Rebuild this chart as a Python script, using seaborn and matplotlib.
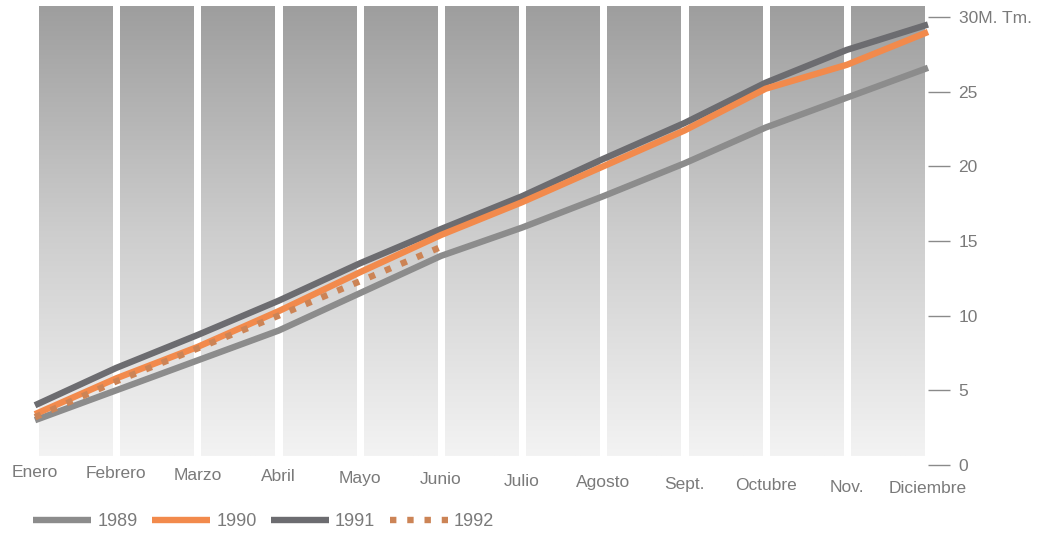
import matplotlib
matplotlib.use("Agg")
import matplotlib.lines as mlines
import matplotlib.pyplot as plt
import matplotlib.transforms as mtransforms
import numpy as np
import pandas as pd
import seaborn as sns

# Monthly cumulative values, millions of tonnes
months = ["Enero", "Febrero", "Marzo", "Abril", "Mayo", "Junio",
          "Julio", "Agosto", "Sept.", "Octubre", "Nov.", "Diciembre"]
y1989 = [3.0, 5.0, 7.0, 9.0, 11.5, 14.0, 15.9, 18.0, 20.2, 22.6, 24.6, 26.6]
y1990 = [3.4, 5.8, 7.9, 10.3, 12.9, 15.4, 17.6, 20.0, 22.4, 25.2, 26.8, 29.0]
y1991 = [4.0, 6.5, 8.7, 11.0, 13.5, 15.8, 18.0, 20.5, 22.9, 25.6, 27.8, 29.5]
y1992 = [3.2, 5.6, 7.8, 10.0, 12.3, 14.6]
y_ticks = [0, 5, 10, 15, 20, 25, 30]
y_tick_labels = ["0", "5", "10", "15", "20", "25", "30M. Tm."]

series = {"1989": y1989, "1991": y1991, "1990": y1990, "1992": y1992}
df = pd.concat([
    pd.DataFrame({"mes": np.arange(len(v)), "valor": v, "year": k})
    for k, v in series.items()
])

colors = {"1989": "#8c8c8c", "1990": "#f28a4c", "1991": "#6c6c70", "1992": "#cc8456"}
styles = {"1989": "-", "1990": "-", "1991": "-", "1992": (0, (1, 1.7))}

sns.set_style("white")
plt.rcParams["font.family"] = ["Liberation Sans", "DejaVu Sans"]
txt = "#7a7a7a"

fig = plt.figure(figsize=(10.52, 5.39), dpi=100)
ax = fig.add_axes([35 / 1052, 74 / 539, 893 / 1052, 462.9 / 539])

# gradient columns between consecutive months
grad = np.linspace(0, 1, 256).reshape(-1, 1)
cmap = matplotlib.colors.LinearSegmentedColormap.from_list("g", ["#f3f3f3", "#cdcdcd", "#9e9e9e"])
g = 0.05
for i in range(len(months) - 1):
    ax.imshow(grad, extent=(i + g, i + 1 - g, 0.6, 30.7), origin="lower",
              cmap=cmap, aspect="auto", zorder=0)

for year in ["1989", "1991", "1990", "1992"]:
    sub = df[df["year"] == year]
    sns.lineplot(data=sub, x="mes", y="valor", ax=ax, color=colors[year],
                 linewidth=4.6, linestyle=styles[year], zorder=3, clip_on=False,
                 solid_capstyle="butt", dash_capstyle="butt")

ax.set_xlim(0, 11)
ax.set_ylim(0, 31)
ax.set_xlabel("")
ax.set_ylabel("")
for s in ax.spines.values():
    s.set_visible(False)

ax.set_xticks(range(len(months)))
ax.set_xticklabels(months, color=txt, fontsize=12.5)
ax.tick_params(axis="x", length=0, pad=0)
# the printed labels drift slightly downward to the right
for i, lab in enumerate(ax.get_xticklabels()):
    lab.set_transform(lab.get_transform() + mtransforms.ScaledTranslation(
        0, -(i * 1.45) / 100, fig.dpi_scale_trans))

ax.yaxis.tick_right()
ax.set_yticks(y_ticks)
ax.set_yticklabels(y_tick_labels, color=txt, fontsize=12.5)
ax.tick_params(axis="y", length=16, width=1, color="#8a8a8a", pad=6, direction="out")

handles = [
    mlines.Line2D([], [], color=colors[y], linestyle=styles[y], linewidth=4.6,
                  solid_capstyle="butt", dash_capstyle="butt", label=y)
    for y in ["1989", "1990", "1991", "1992"]
]
leg = fig.legend(handles=handles, loc="center left", bbox_to_anchor=(17 / 1052, 1 - 522 / 539),
                 ncol=4, frameon=False, fontsize=13, handlelength=3.2,
                 handletextpad=0.35, columnspacing=0.8)
for t in leg.get_texts():
    t.set_color(txt)

fig.savefig("out.png", dpi=100, facecolor="white")
